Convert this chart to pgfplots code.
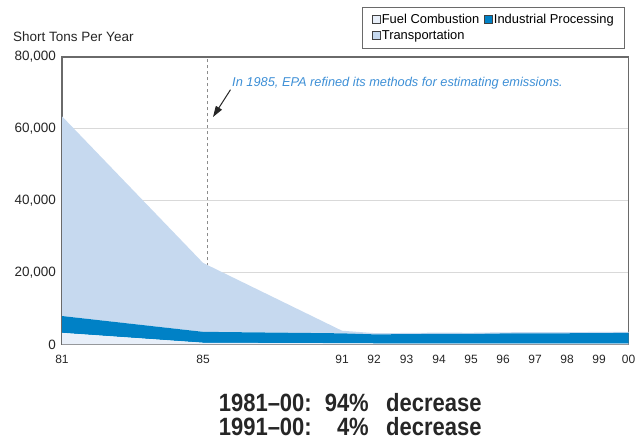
\documentclass[border=0pt]{standalone}
\usepackage{fontspec}
\setmainfont{Liberation Sans}
\newfontfamily\condbold[FakeStretch=0.88,Ligatures=TeX]{Liberation Sans Bold}
\usepackage{pgfplots}
\pgfplotsset{compat=1.18}
\usetikzlibrary{arrows.meta}
\definecolor{fuelc}{HTML}{E8EFF9}
\definecolor{indc}{HTML}{0081C6}
\definecolor{transc}{HTML}{C6D9EF}
\definecolor{annot}{HTML}{3D8FD6}
\definecolor{frame}{HTML}{6A6A6A}

\begin{document}
\begin{tikzpicture}[x=1pt,y=1pt]
  \useasboundingbox (0,0) rectangle (640,440);
  \begin{axis}[
    at={(62pt,95.6pt)}, anchor=south west,
    width=566.6pt, height=287.4pt, scale only axis,
    xmin=0, xmax=566.6, ymin=0, ymax=80000,
    stack plots=y,
    xtick={0,141,280,312,344.5,377,409,441,473,505,537,566.6},
    xticklabels={81,85,91,92,93,94,95,96,97,98,99,00},
    ytick={0,20000,40000,60000,80000},
    scaled y ticks=false,
    yticklabel style={/pgf/number format/1000 sep={,}, font=\fontsize{13.5}{15}\selectfont, xshift=-2.5pt},
    xticklabel style={font=\fontsize{12}{14}\selectfont, yshift=-7pt},
    /pgf/number format/assume math mode=true,
    major tick length=0pt,
    ymajorgrids, grid style={black!15, line width=0.8pt},
    axis line style={frame, line width=1.2pt},
    tick label style={text=black!85},
    legend columns=2,
    legend cell align=left,
    legend style={at={(0.994,1.174)}, anchor=north east, draw=frame, line width=1pt,
      font=\fontsize{12.9}{14}\selectfont, inner xsep=10pt, inner ysep=6pt,
      row sep=3pt, nodes={inner sep=1pt},
      /tikz/every even column/.append style={column sep=4pt}},
    legend image code/.code={\draw[#1, draw=black!75, line width=0.6pt] (0pt,-3.8pt) rectangle (8pt,4.2pt);},
  ]
    \addplot[fill=fuelc, draw=none] coordinates {
      (0,3200) (141,450) (280,300) (312,250) (344.5,250) (377,250) (409,250)
      (441,250) (473,250) (505,250) (537,250) (566.6,250)} \closedcycle;
    \addlegendentry{Fuel Combustion}
    \addplot[fill=indc, draw=none] coordinates {
      (0,4700) (141,3050) (280,2780) (312,2550) (344.5,2600) (377,2700) (409,2650)
      (441,2800) (473,2850) (505,2850) (537,2900) (566.6,2950)} \closedcycle;
    \addlegendentry{Industrial Processing}
    \addplot[fill=transc, draw=none] coordinates {
      (0,55600) (141,19200) (280,730) (312,350) (344.5,330) (377,330) (409,330)
      (441,320) (473,320) (505,320) (537,320) (566.6,300)} \closedcycle;
    \addlegendentry{Transportation}

    \draw[black!45, dashed, line width=0.8pt] (axis cs:145,0) -- (axis cs:145,80000);
    \node[anchor=west, inner sep=0pt, text=annot, font=\fontsize{12.8}{14}\selectfont\itshape]
      at (axis cs:170,72800) {In 1985, EPA refined its methods for estimating emissions.};
    \draw[-{Triangle[length=11pt,width=7pt]}, line width=1pt, black!85]
      (axis cs:168.5,70900) -- (axis cs:151,63300);
  \end{axis}
  \node[anchor=base west, inner sep=0pt, font=\fontsize{13.5}{15}\selectfont, text=black!85]
    at (13,398) {Short Tons Per Year};
  \begin{scope}[every node/.style={inner sep=0pt, font=\condbold\fontsize{25}{28}\selectfont, text=black!85}]
    \node[anchor=base east] at (312,28.5) {1981–00:};
    \node[anchor=base east] at (369,28.5) {94\%};
    \node[anchor=base west] at (386,28.5) {decrease};
    \node[anchor=base east] at (312,5) {1991–00:};
    \node[anchor=base east] at (369,5) {4\%};
    \node[anchor=base west] at (386,5) {decrease};
  \end{scope}
\end{tikzpicture}
\end{document}
